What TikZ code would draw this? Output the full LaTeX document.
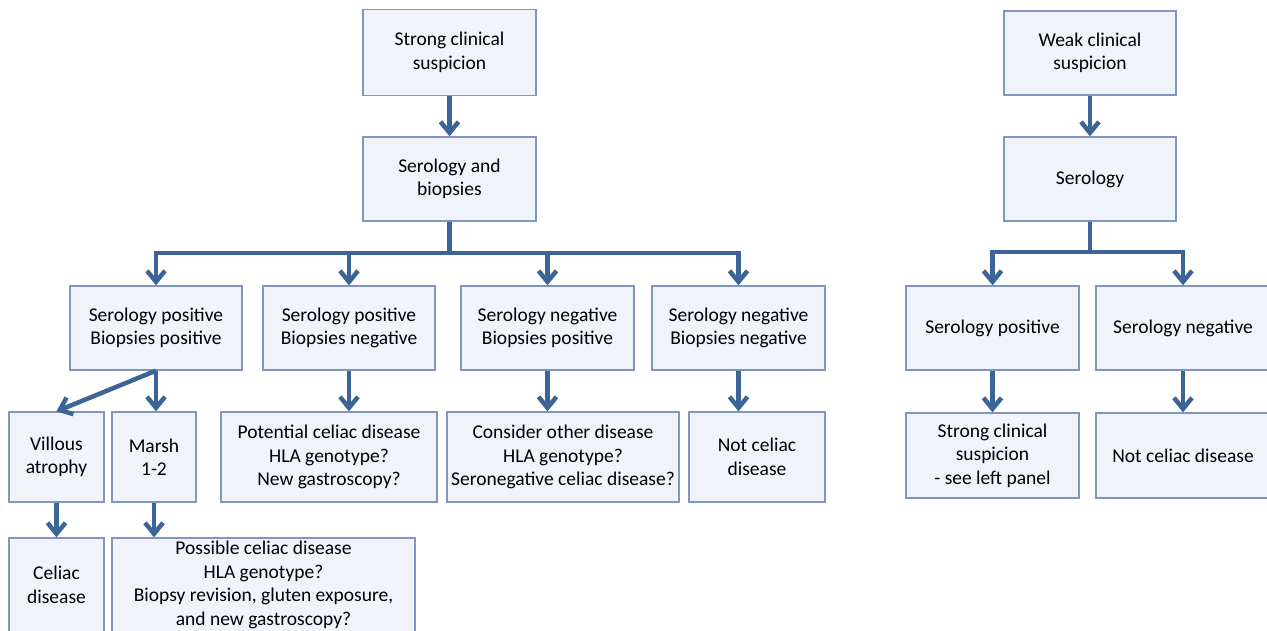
\documentclass[tikz,border=0pt]{standalone}
\usepackage{fontspec}
\setmainfont{Carlito}
\usetikzlibrary{arrows.meta}
\definecolor{boxfill}{HTML}{F0F4FA}
\definecolor{boxline}{HTML}{7F97C0}
\definecolor{arrcol}{HTML}{3C6496}
\tikzset{
  fbox/.style={draw=boxline, fill=boxfill, line width=1.3pt, align=center, inner sep=0pt,
    font=\fontsize{19.5}{23.5}\selectfont, text=black},
  conn/.style={draw=arrcol, line width=4.5pt},
  arr/.style={conn, -{Straight Barb[length=11pt,width=18pt]}},
}
\begin{document}
\begin{tikzpicture}[x=1pt,y=-1pt]
\fill[white] (0,0) rectangle (1267,630);
\clip (0,0) rectangle (1267,630);
% left panel
\node[fbox, minimum width=173pt, minimum height=86pt] (scs) at (449.5,52.5) {Strong clinical\\suspicion};
\node[fbox, minimum width=173pt, minimum height=84pt] (sb) at (449.5,179) {Serology and\\biopsies};
\node[fbox, minimum width=172pt, minimum height=84pt] (spbp) at (156,328) {Serology positive\\Biopsies positive};
\node[fbox, minimum width=172pt, minimum height=84pt] (spbn) at (349,328) {Serology positive\\Biopsies negative};
\node[fbox, minimum width=173pt, minimum height=84pt] (snbp) at (547.5,328) {Serology negative\\Biopsies positive};
\node[fbox, minimum width=173pt, minimum height=84pt] (snbn) at (738.5,328) {Serology negative\\Biopsies negative};
\node[fbox, minimum width=95pt, minimum height=90pt] (va) at (56.5,457) {Villous\\atrophy};
\node[fbox, minimum width=84pt, minimum height=90pt] (marsh) at (154,457) {Marsh\\1-2};
\node[fbox, minimum width=216pt, minimum height=90pt] (pot) at (329,457) {Potential celiac disease\\HLA genotype?\\New gastroscopy?};
\node[fbox, minimum width=232pt, minimum height=90pt] (cod) at (563,457) {Consider other disease\\HLA genotype?\\Seronegative celiac disease?};
\node[fbox, minimum width=136pt, minimum height=90pt] (ncd) at (757,457) {Not celiac\\disease};
\node[fbox, minimum width=95pt, minimum height=94pt] (cel) at (56.5,585) {Celiac\\disease};
\node[fbox, minimum width=303pt, minimum height=94pt] (pos) at (263.5,585) {Possible celiac disease\\HLA genotype?\\Biopsy revision, gluten exposure,\\and new gastroscopy?};
% right panel
\node[fbox, minimum width=172pt, minimum height=84pt] (wcs) at (1090,53) {Weak clinical\\suspicion};
\node[fbox, minimum width=172pt, minimum height=84pt] (ser) at (1090,179) {Serology};
\node[fbox, minimum width=173pt, minimum height=84pt] (sp) at (992.5,328) {Serology positive};
\node[fbox, minimum width=174pt, minimum height=84pt] (sn) at (1183,328) {Serology negative};
\node[fbox, minimum width=173pt, minimum height=85pt] (scs2) at (992.5,455.5) {Strong clinical\\suspicion\\- see left panel};
\node[fbox, minimum width=174pt, minimum height=85pt] (ncd2) at (1183,455.5) {Not celiac disease};
% connectors left
\coordinate (bar) at (449.5,253);
\draw[arr] (scs.south) -- (sb.north);
\draw[conn] (sb.south) -- (bar);
\draw[arr] (bar) -| (spbp.north);
\draw[arr] (bar) -| (spbn.north);
\draw[arr] (bar) -| (snbp.north);
\draw[arr] (bar) -| (snbn.north);
\draw[arr] (spbp.south) -- (va.north);
\draw[arr] (spbp.south) -- (spbp.south |- marsh.north);
\draw[arr] (spbn.south) -- (spbn.south |- pot.north);
\draw[arr] (snbp.south) -- (snbp.south |- cod.north);
\draw[arr] (snbn.south) -- (snbn.south |- ncd.north);
\draw[arr] (va.south) -- (cel.north);
\draw[arr] (marsh.south) -- (marsh.south |- pos.north);
% connectors right
\coordinate (bar2) at (1090,252);
\draw[arr] (wcs.south) -- (ser.north);
\draw[conn] (ser.south) -- (bar2);
\draw[arr] (bar2) -| (sp.north);
\draw[arr] (bar2) -| (sn.north);
\draw[arr] (sp.south) -- (scs2.north);
\draw[arr] (sn.south) -- (ncd2.north);
\end{tikzpicture}
\end{document}
